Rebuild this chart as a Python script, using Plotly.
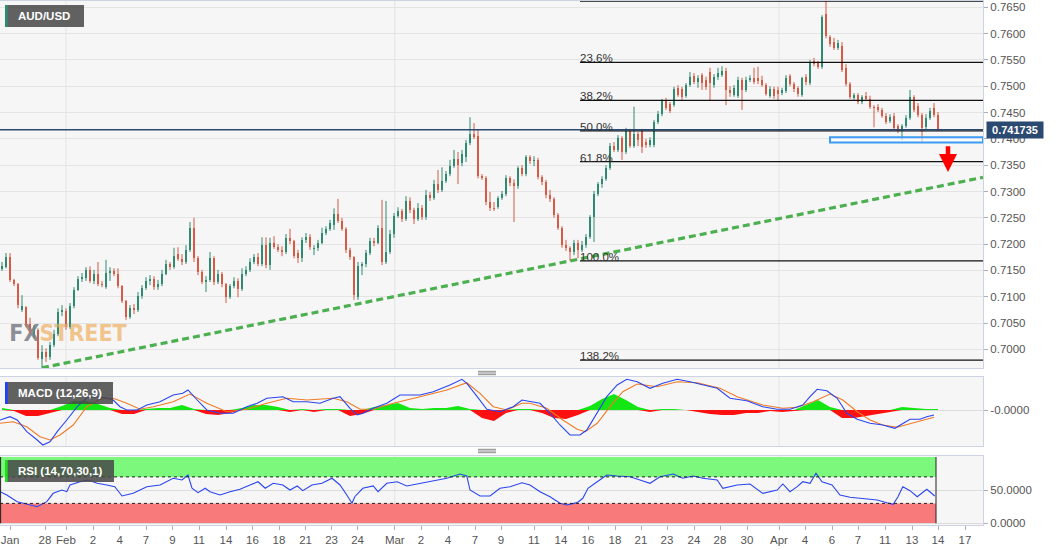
import numpy as np
import plotly.graph_objects as go

# ---------------- DATA ----------------
open_ = [0.7153,0.7156,0.7175,0.7132,0.7124,0.7075,0.7080,0.7048,0.7025,0.7037,
 0.6982,0.6995,0.6985,0.7008,0.7029,0.7071,0.7073,0.7042,0.7082,0.7113,
 0.7134,0.7135,0.7151,0.7130,0.7143,0.7124,0.7118,0.7145,0.7149,0.7143,
 0.7120,0.7092,0.7061,0.7078,0.7075,0.7101,0.7116,0.7130,0.7134,0.7118,
 0.7124,0.7143,0.7162,0.7156,0.7181,0.7172,0.7166,0.7189,0.7231,0.7173,
 0.7147,0.7128,0.7132,0.7173,0.7128,0.7143,0.7124,0.7099,0.7120,0.7130,
 0.7115,0.7143,0.7151,0.7166,0.7175,0.7162,0.7198,0.7160,0.7202,0.7194,
 0.7189,0.7185,0.7212,0.7206,0.7183,0.7173,0.7208,0.7213,0.7191,0.7193,
 0.7202,0.7221,0.7229,0.7236,0.7257,0.7244,0.7229,0.7189,0.7175,0.7099,
 0.7158,0.7162,0.7183,0.7206,0.7202,0.7231,0.7166,0.7185,0.7219,0.7253,
 0.7263,0.7248,0.7282,0.7265,0.7248,0.7269,0.7251,0.7293,0.7287,0.7314,
 0.7303,0.7320,0.7333,0.7348,0.7362,0.7354,0.7365,0.7392,0.7409,0.7405,
 0.7329,0.7325,0.7280,0.7269,0.7270,0.7287,0.7295,0.7325,0.7316,0.7310,
 0.7345,0.7333,0.7365,0.7358,0.7360,0.7327,0.7318,0.7293,0.7286,0.7255,
 0.7231,0.7198,0.7193,0.7185,0.7202,0.7189,0.7198,0.7213,0.7251,0.7295,
 0.7314,0.7323,0.7345,0.7386,0.7379,0.7402,0.7375,0.7415,0.7386,0.7409,
 0.7415,0.7394,0.7388,0.7388,0.7432,0.7447,0.7472,0.7466,0.7464,0.7497,
 0.7495,0.7482,0.7502,0.7519,0.7508,0.7521,0.7512,0.7527,0.7502,0.7518,
 0.7521,0.7529,0.7493,0.7483,0.7482,0.7512,0.7493,0.7512,0.7516,0.7516,
 0.7512,0.7502,0.7482,0.7495,0.7493,0.7487,0.7491,0.7520,0.7504,0.7497,
 0.7483,0.7518,0.7506,0.7548,0.7544,0.7537,0.7637,0.7594,0.7584,0.7573,
 0.7576,0.7535,0.7504,0.7478,0.7483,0.7470,0.7482,0.7476,0.7461,0.7461,
 0.7455,0.7443,0.7434,0.7443,0.7424,0.7415,0.7424,0.7440,0.7480,0.7462,
 0.7445,0.7422,0.7440,0.7459,0.7445]

high_ = [0.7166,0.7183,0.7183,0.7134,0.7126,0.7103,0.7082,0.7060,0.7046,0.7040,
 0.7008,0.7002,0.7014,0.7037,0.7078,0.7084,0.7078,0.7088,0.7118,0.7139,
 0.7145,0.7156,0.7158,0.7151,0.7166,0.7130,0.7170,0.7156,0.7154,0.7154,
 0.7122,0.7094,0.7084,0.7086,0.7109,0.7122,0.7137,0.7141,0.7139,0.7132,
 0.7151,0.7170,0.7166,0.7193,0.7194,0.7181,0.7198,0.7242,0.7250,0.7177,
 0.7151,0.7139,0.7185,0.7177,0.7151,0.7147,0.7126,0.7124,0.7137,0.7135,
 0.7154,0.7158,0.7173,0.7181,0.7183,0.7213,0.7213,0.7212,0.7215,0.7200,
 0.7196,0.7219,0.7229,0.7208,0.7189,0.7213,0.7221,0.7219,0.7198,0.7208,
 0.7231,0.7234,0.7246,0.7268,0.7286,0.7250,0.7232,0.7193,0.7177,0.7166,
 0.7166,0.7189,0.7212,0.7212,0.7236,0.7284,0.7282,0.7227,0.7259,0.7270,
 0.7267,0.7291,0.7289,0.7269,0.7278,0.7274,0.7303,0.7299,0.7322,0.7341,
 0.7346,0.7339,0.7360,0.7379,0.7375,0.7379,0.7398,0.7441,0.7430,0.7417,
 0.7333,0.7329,0.7299,0.7280,0.7291,0.7301,0.7331,0.7329,0.7323,0.7348,
 0.7350,0.7369,0.7369,0.7367,0.7364,0.7331,0.7322,0.7303,0.7289,0.7259,
 0.7234,0.7208,0.7196,0.7208,0.7208,0.7206,0.7219,0.7255,0.7301,0.7318,
 0.7329,0.7350,0.7392,0.7394,0.7407,0.7405,0.7421,0.7419,0.7461,0.7413,
 0.7419,0.7400,0.7403,0.7436,0.7453,0.7476,0.7478,0.7470,0.7499,0.7502,
 0.7499,0.7506,0.7527,0.7525,0.7521,0.7525,0.7518,0.7535,0.7523,0.7535,
 0.7538,0.7535,0.7500,0.7502,0.7518,0.7516,0.7518,0.7521,0.7535,0.7537,
 0.7520,0.7506,0.7500,0.7499,0.7499,0.7497,0.7521,0.7523,0.7508,0.7500,
 0.7518,0.7523,0.7550,0.7554,0.7548,0.7635,0.7662,0.7597,0.7592,0.7588,
 0.7584,0.7542,0.7508,0.7487,0.7487,0.7483,0.7489,0.7482,0.7464,0.7466,
 0.7459,0.7449,0.7447,0.7449,0.7428,0.7428,0.7445,0.7493,0.7483,0.7468,
 0.7449,0.7447,0.7459,0.7468,0.7451]

low_ = [0.7149,0.7154,0.7128,0.7120,0.7078,0.7071,0.7042,0.7029,0.7021,0.6980,
 0.6965,0.6976,0.6980,0.7004,0.7025,0.7063,0.7037,0.7039,0.7078,0.7111,
 0.7128,0.7130,0.7126,0.7124,0.7120,0.7118,0.7115,0.7130,0.7139,0.7116,
 0.7088,0.7056,0.7058,0.7067,0.7071,0.7096,0.7113,0.7122,0.7113,0.7113,
 0.7120,0.7141,0.7151,0.7153,0.7168,0.7160,0.7162,0.7185,0.7166,0.7141,
 0.7124,0.7109,0.7128,0.7122,0.7124,0.7118,0.7088,0.7096,0.7116,0.7099,
 0.7111,0.7139,0.7147,0.7162,0.7158,0.7158,0.7154,0.7151,0.7191,0.7185,
 0.7177,0.7181,0.7200,0.7173,0.7164,0.7166,0.7202,0.7189,0.7179,0.7187,
 0.7200,0.7217,0.7225,0.7227,0.7240,0.7225,0.7183,0.7170,0.7094,0.7094,
 0.7141,0.7156,0.7179,0.7196,0.7200,0.7160,0.7162,0.7181,0.7212,0.7250,
 0.7242,0.7244,0.7259,0.7238,0.7244,0.7246,0.7246,0.7282,0.7284,0.7297,
 0.7299,0.7316,0.7329,0.7345,0.7314,0.7348,0.7356,0.7388,0.7400,0.7325,
 0.7322,0.7274,0.7263,0.7263,0.7267,0.7284,0.7291,0.7310,0.7242,0.7305,
 0.7329,0.7329,0.7352,0.7348,0.7323,0.7312,0.7287,0.7280,0.7250,0.7227,
 0.7193,0.7187,0.7168,0.7179,0.7173,0.7185,0.7193,0.7210,0.7204,0.7291,
 0.7307,0.7320,0.7341,0.7375,0.7375,0.7360,0.7371,0.7383,0.7383,0.7386,
 0.7373,0.7383,0.7384,0.7384,0.7428,0.7443,0.7455,0.7449,0.7461,0.7480,
 0.7474,0.7478,0.7499,0.7504,0.7497,0.7493,0.7493,0.7472,0.7497,0.7512,
 0.7518,0.7464,0.7480,0.7480,0.7478,0.7455,0.7489,0.7508,0.7504,0.7504,
 0.7499,0.7482,0.7478,0.7476,0.7472,0.7483,0.7487,0.7500,0.7489,0.7480,
 0.7480,0.7502,0.7502,0.7538,0.7533,0.7533,0.7591,0.7575,0.7569,0.7569,
 0.7527,0.7500,0.7476,0.7474,0.7466,0.7466,0.7472,0.7457,0.7422,0.7451,
 0.7440,0.7428,0.7430,0.7417,0.7411,0.7398,0.7421,0.7436,0.7451,0.7441,
 0.7392,0.7417,0.7436,0.7441,0.7415]

close_ = [0.7158,0.7175,0.7132,0.7124,0.7084,0.7082,0.7048,0.7037,0.7039,0.6983,
 0.6995,0.6985,0.7008,0.7029,0.7071,0.7075,0.7042,0.7082,0.7113,0.7134,
 0.7137,0.7151,0.7130,0.7143,0.7124,0.7122,0.7145,0.7149,0.7143,0.7120,
 0.7092,0.7061,0.7078,0.7075,0.7101,0.7116,0.7130,0.7134,0.7118,0.7124,
 0.7143,0.7162,0.7156,0.7177,0.7172,0.7166,0.7189,0.7231,0.7173,0.7147,
 0.7128,0.7132,0.7173,0.7128,0.7143,0.7124,0.7099,0.7120,0.7130,0.7115,
 0.7143,0.7151,0.7166,0.7175,0.7162,0.7198,0.7160,0.7202,0.7194,0.7189,
 0.7185,0.7212,0.7206,0.7177,0.7173,0.7208,0.7213,0.7194,0.7193,0.7202,
 0.7221,0.7229,0.7240,0.7257,0.7244,0.7229,0.7189,0.7175,0.7103,0.7158,
 0.7162,0.7183,0.7206,0.7202,0.7231,0.7166,0.7185,0.7219,0.7253,0.7263,
 0.7248,0.7282,0.7265,0.7248,0.7269,0.7251,0.7293,0.7287,0.7314,0.7303,
 0.7320,0.7333,0.7348,0.7362,0.7350,0.7371,0.7392,0.7409,0.7403,0.7329,
 0.7325,0.7280,0.7269,0.7267,0.7287,0.7295,0.7325,0.7316,0.7310,0.7345,
 0.7333,0.7365,0.7358,0.7360,0.7327,0.7318,0.7293,0.7286,0.7255,0.7231,
 0.7198,0.7193,0.7185,0.7202,0.7189,0.7198,0.7213,0.7251,0.7295,0.7314,
 0.7323,0.7345,0.7386,0.7379,0.7402,0.7375,0.7415,0.7386,0.7409,0.7398,
 0.7384,0.7388,0.7398,0.7432,0.7447,0.7472,0.7459,0.7453,0.7495,0.7483,
 0.7480,0.7502,0.7518,0.7508,0.7515,0.7506,0.7499,0.7506,0.7518,0.7525,
 0.7529,0.7493,0.7487,0.7497,0.7512,0.7493,0.7512,0.7516,0.7508,0.7510,
 0.7502,0.7485,0.7495,0.7482,0.7485,0.7493,0.7516,0.7504,0.7495,0.7485,
 0.7515,0.7508,0.7544,0.7542,0.7537,0.7632,0.7595,0.7580,0.7573,0.7582,
 0.7531,0.7504,0.7480,0.7483,0.7470,0.7480,0.7476,0.7461,0.7459,0.7455,
 0.7443,0.7432,0.7441,0.7421,0.7415,0.7424,0.7440,0.7480,0.7455,0.7445,
 0.7421,0.7440,0.7453,0.7445,0.741735]

x_tick_labels = ["Jan","28","Feb","2","4","7","9","11","14","16","18","21","23","24",
                 "Mar","2","4","7","9","11","14","16","18","21","23","24","28","30",
                 "Apr","4","6","7","11","13","14","17"]
x_tick_pos = [2.0,10.75,16,22.75,29.4,36,42.6,49.25,56,62.6,69.25,75.9,82.4,88.9,
              98.2,104.75,111.5,118.25,124.75,133,139.75,146.5,153.25,159.75,166.25,173,179.5,186.25,
              194.25,200.75,207.5,214,220.75,227.5,234,240.75]

macd_x = [-0.5,2,3.8,6.2,8.8,10.2,12,13.8,16.2,18.8,21.2,23.8,26.2,27.8,29.5,31.2,33.8,36.2,39.5,42.8,
          45.2,46.5,48.8,51.2,54.5,57.8,61.2,63.8,66.2,70.2,72.8,76.2,79.5,82.8,84.5,87,88.8,90.2,92.8,96.2,
          99.5,104.5,107.8,112,115,116.2,118.8,121.2,124.5,127.8,130,132,134.5,137,139.5,142,144.5,146.2,148.8,151.2,
          153.8,156.2,158.8,162,165.2,168.8,172,175.2,178.8,182,186.2,190.2,193.8,197,200.2,202,203.8,206.2,208.8,211.2,
          213.8,217,220.2,223.2,225.2,227,229.5,231.2,233]
macd_vals = [-0.0010,-0.00067,-0.0010,-0.00217,-0.0030,-0.0035,-0.00317,-0.00217,-0.0010,0.00033,
             0.0012,0.00133,0.0012,0.0010,0.00033,0.0,0.0,0.0005,0.00083,0.0015,
             0.00167,0.0020,0.0010,0.0,-0.00033,-0.00033,0.00033,0.00067,0.00117,0.00133,
             0.00083,0.00083,0.00067,0.00117,0.00133,0.00017,-0.0005,-0.00033,0.00017,0.00067,
             0.0015,0.0015,0.00183,0.0025,0.00307,0.00267,0.00133,0.00007,-0.00017,0.00033,
             0.0010,0.00083,0.00067,-0.00033,-0.0015,-0.0025,-0.0025,-0.0020,-0.00033,0.00133,
             0.0025,0.00307,0.00283,0.00217,0.00267,0.00307,0.00283,0.0025,0.00217,0.00117,
             0.00093,0.00033,0.00007,0.00007,0.0005,0.00133,0.00207,0.00193,0.00117,-0.00033,
             -0.00093,-0.00133,-0.0015,-0.00183,-0.00133,-0.00093,-0.00093,-0.00067,-0.0005]

signal_x = [-0.5,2.8,6.2,9.5,12,14.5,17.8,21.2,24.5,27.8,31.2,34.5,37.8,42.8,47,51.2,56.2,61.2,66.2,71.2,
            76.2,82.8,86.2,89.5,92.8,97.8,104.5,111.2,116.2,119.5,122.8,126.2,130,132,136.2,140.2,143.8,145.8,148.8,152,
            155.2,158.8,163.8,168.8,173.8,179.5,183.8,190.2,195.2,198.8,202.8,207,210.2,213.8,217,220.2,223.8,227,230.2,233]
signal_vals = [-0.00133,-0.00117,-0.00167,-0.00267,-0.0030,-0.0025,-0.0015,0.00033,0.00107,0.00117,
               0.00067,0.00007,0.00033,0.00083,0.0016,0.00067,-0.00017,0.00007,0.00067,0.00117,
               0.0010,0.00117,0.00083,0.00007,0.00007,0.00067,0.00133,0.0020,0.00273,0.00167,
               0.00033,0.0,0.00067,0.00067,0.00017,-0.0010,-0.00193,-0.00217,-0.00133,0.00033,
               0.00183,0.0026,0.00233,0.00283,0.00273,0.00217,0.00133,0.0005,0.00017,0.00027,
               0.00083,0.0016,0.0010,-0.00017,-0.0010,-0.0015,-0.00173,-0.0014,-0.00107,-0.00073]

hist_x = list(range(0, 235, 3))
hist_vals = [0.0002,-0.0001,-0.0006,-0.0006,-0.0003,0.0004,0.0009,0.0009,0.0006,0.0002,
             -0.0004,-0.0004,0.0001,0.0002,0.0002,0.0005,0.0001,-0.0004,-0.0005,-0.0003,
             0.0002,0.0005,0.0005,0.0003,-0.0002,0.0001,-0.0002,0.0001,0.0001,-0.0006,
             -0.0004,0.0003,0.0005,0.0007,0.0002,0.0001,0.0002,0.0002,0.0004,0.0001,
             -0.0008,-0.0011,-0.0003,0.0001,0.0001,-0.0003,-0.0008,-0.0009,-0.0005,0.0004,
             0.0011,0.0016,0.0010,0.0003,-0.0002,0.0001,0.0001,0.0,-0.0002,-0.0004,
             -0.0005,-0.0005,-0.0003,-0.0003,-0.0001,-0.0002,-0.0001,0.0005,0.0010,0.0003,
             -0.0008,-0.0008,-0.0006,-0.0004,-0.0002,0.0003,0.0002,0.0001,0.0001]

rsi_x = [-0.5,1.2,3.8,5.2,7,8.8,11.2,12.8,15,16.2,
         17,19.5,21.5,23.8,26.2,28.2,30,32.8,36.2,39.5,
         42.8,45,46.5,47.5,49,50.8,52,54.5,57,59.5,
         62,64,65.8,67.8,70.2,72,73.8,75.2,77.5,80,
         82.5,84.5,86.2,87.5,88.2,90.2,92.8,94,96.2,98.8,
         101.2,104.5,107.8,111.2,114.5,116.2,117,119.5,122,124.5,
         127,130,132,134.5,137,139.5,141.2,143.8,145.2,146.5,
         148.8,151.2,153.8,157,159.5,162,164.5,167.8,170.2,172.8,
         175.2,178.8,180.2,183.8,187,190.2,193.8,195.2,197,198.8,
         200.2,202,203.5,205,207.5,209.5,212,215.2,218.8,221.2,
         222.8,224,225.2,227,228.8,231.2,233.2]
rsi_vals = [47.7,42.7,32.6,30.2,27.6,25,32.6,45.2,50.2,47.7,
            57.8,62.7,65.3,60.3,57.8,55.2,41.2,45.2,55.2,57.8,
            67.9,65.3,72.8,52.8,46.2,52.8,47.7,42.7,47.7,51.3,
            57.8,62.7,52.8,60.3,57.8,50.2,56.3,49.2,57.8,60.3,
            67.9,57.8,42.7,30.2,40.1,52.8,56.3,47.7,60.3,62.7,
            56.3,60.3,64.3,67.9,74.4,71.3,50.2,41.2,41.2,52.8,
            55.2,61.2,57.8,47.7,40.1,30.2,27.6,31.1,37.7,52.8,
            62.7,72.8,71.3,70.3,65.3,60.3,70.3,74.4,67.9,71.3,
            67.9,65.3,52.8,57.8,59.3,45.2,50.2,59.3,47.7,55.2,
            62.7,60.3,75.4,62.7,57.8,42.7,39.2,37.7,35.1,31.1,
            28.7,40.1,55.2,49.2,40.1,51.3,41.2]

fib_ratios = [0.0, 0.236, 0.382, 0.5, 0.618, 1.0, 1.382]
fib_text = ["", "23.6%", "38.2%", "50.0%", "61.8%", "100.0%", "138.2%"]

# ---------------- GEOMETRY / STYLE ----------------
W, H = 1060, 550
ML, MR, MT, MB = 0, 77, 1, 25
PW, PH = W - ML - MR, H - MT - MB
FONT = "Liberation Sans, Arial, sans-serif"
UP, DOWN = "#2f8a70", "#d65a44"
BORDER = "#cdd3e1"
GRID = "#e4e4e4"
TXT = "#555555"

def ydom(top_px, bot_px):
    return [(H - MB - bot_px) / PH, (H - MB - top_px) / PH]

def pxx(px):
    return px / PW

def pxy(py):
    return (H - MB - py) / PH

X_RANGE = [-0.5, 245.25]
P_RANGE = [0.69645, 0.76620]
M_RANGE = [-0.0036, 0.0033]
R_RANGE = [-2.6, 101.5]

o = np.array(open_); h = np.array(high_); l = np.array(low_); c = np.array(close_)
idx = np.arange(len(c))
up = c >= o

fig = go.Figure()

# watermark (below candles)
fig.add_trace(go.Scatter(
    x=[16.5], y=[0.7027], mode="text",
    text=["<b><span style='color:#8e8e98'>FX</span><span style='color:#f1c48e'>STREET</span></b>"],
    textfont=dict(family="Liberation Sans Narrow, DejaVu Sans Condensed, Arial Narrow, sans-serif", size=23),
    xaxis="x", yaxis="y", hoverinfo="skip"))

# trend line through the two swing lows
a_i, b_i = 10, 142
slope = (l[b_i] - l[a_i]) / (b_i - a_i)
tx = np.array([a_i, X_RANGE[1]])
fig.add_trace(go.Scatter(x=tx, y=l[a_i] + slope * (tx - a_i), mode="lines",
                         line=dict(color="#4caf50", width=3.2, dash="7px,4px"),
                         xaxis="x", yaxis="y", hoverinfo="skip"))

# candles: wicks + bodies
for mask, col in ((up, UP), (~up, DOWN)):
    wx, wy = [], []
    for i in idx[mask]:
        wx += [i, i, None]
        wy += [l[i], h[i], None]
    fig.add_trace(go.Scatter(x=wx, y=wy, mode="lines", line=dict(color=col, width=1),
                             xaxis="x", yaxis="y", hoverinfo="skip"))
    base = np.minimum(o, c)[mask]
    height = np.maximum(np.abs(c - o), 0.0001)[mask]
    fig.add_trace(go.Bar(x=idx[mask], y=height, base=base, width=0.72,
                         marker=dict(color=col, line=dict(width=0)),
                         xaxis="x", yaxis="y", hoverinfo="skip"))

# MACD histogram
hv = np.array(hist_vals)
fig.add_trace(go.Scatter(x=hist_x, y=np.maximum(hv, 0), mode="lines", fill="tozeroy",
                         fillcolor="#14e614", line=dict(width=0), xaxis="x2", yaxis="y2", hoverinfo="skip"))
fig.add_trace(go.Scatter(x=hist_x, y=np.minimum(hv, 0), mode="lines", fill="tozeroy",
                         fillcolor="#ff1010", line=dict(width=0), xaxis="x2", yaxis="y2", hoverinfo="skip"))
fig.add_trace(go.Scatter(x=signal_x, y=signal_vals, mode="lines", line=dict(color="#f07a25", width=1.1),
                         xaxis="x2", yaxis="y2", hoverinfo="skip"))
fig.add_trace(go.Scatter(x=macd_x, y=macd_vals, mode="lines", line=dict(color="#2a45f0", width=1.1),
                         xaxis="x2", yaxis="y2", hoverinfo="skip"))

# RSI
fig.add_trace(go.Scatter(x=rsi_x, y=rsi_vals, mode="lines", line=dict(color="#2a45f0", width=1.1),
                         xaxis="x3", yaxis="y3", hoverinfo="skip"))

shapes = []
annotations = []

# month gridlines
months = [p for p, t in zip(x_tick_pos, x_tick_labels) if t in ("Feb", "Mar", "Apr")]
for xr, yr in (("x", "y domain"), ("x2", "y2 domain"), ("x3", "y3 domain")):
    for m in months:
        shapes.append(dict(type="line", xref=xr, yref=yr, x0=m, x1=m, y0=0, y1=1,
                           line=dict(color=GRID, width=1), layer="below"))

# RSI zones
last_x = idx[-1] - 0.5
shapes.append(dict(type="rect", xref="x3", yref="y3", x0=X_RANGE[0], x1=last_x, y0=70, y1=100,
                   fillcolor="#7cf87c", line=dict(width=0), layer="below"))
shapes.append(dict(type="rect", xref="x3", yref="y3", x0=X_RANGE[0], x1=last_x, y0=0, y1=30,
                   fillcolor="#f87a7a", line=dict(width=0), layer="below"))
for lv in (70, 30):
    shapes.append(dict(type="line", xref="x3", yref="y3", x0=X_RANGE[0], x1=last_x, y0=lv, y1=lv,
                       line=dict(color="#222", width=1, dash="dot")))
for xv in (X_RANGE[0] + 0.15, last_x):
    shapes.append(dict(type="line", xref="x3", yref="y3", x0=xv, x1=xv, y0=0, y1=100,
                       line=dict(color="#222", width=1)))

# Fibonacci retracement
fib_hi = h.max()
fib_lo = l[120:].min()
fib_x0 = 144.5
for r, t in zip(fib_ratios, fib_text):
    lvl = fib_hi - r * (fib_hi - fib_lo)
    shapes.append(dict(type="line", xref="x", yref="y", x0=fib_x0, x1=X_RANGE[1], y0=lvl, y1=lvl,
                       line=dict(color="#111", width=1.3)))
    if t:
        annotations.append(dict(x=fib_x0, y=lvl, xref="x", yref="y", text=t, showarrow=False,
                                xanchor="left", yanchor="bottom", yshift=-4, xshift=-2,
                                font=dict(family=FONT, size=11.5, color="#333")))

# current price line
last = c[-1]
shapes.append(dict(type="line", xref="x domain", yref="y", x0=0, x1=1, y0=last, y1=last,
                   line=dict(color="#2b4a72", width=1.3)))

# support zone
shapes.append(dict(type="rect", xref="x", yref="y", x0=207, x1=X_RANGE[1], y0=0.7393, y1=0.7403,
                   fillcolor="rgba(255,255,255,0.55)", line=dict(color="#3a9cf2", width=2)))

# down arrow
annotations.append(dict(x=236.5, y=0.7337, ax=236.5, ay=0.7389, xref="x", yref="y", axref="x", ayref="y",
                        text="", showarrow=True, arrowhead=2, arrowsize=0.8, arrowwidth=4.5,
                        arrowcolor="#ff0000"))

# price label
annotations.append(dict(x=1, xref="paper", y=last, yref="y", xanchor="left", yanchor="middle",
                        xshift=3, text=f"<b>{last:.6f}</b>", showarrow=False,
                        bgcolor="#2b4a72", borderpad=2, width=52,
                        font=dict(family=FONT, size=11, color="white")))

# panel title boxes
boxes = [("AUD/USD", 5, 84, 5, 27, "#2e8b72"),
         ("MACD (12,26,9)", 5, 113, 382, 404, "#2040ff"),
         ("RSI (14,70,30,1)", 5, 114, 460, 482, "#1ee01e")]
for text, x0, x1, y0, y1, acc in boxes:
    shapes.append(dict(type="rect", xref="paper", yref="paper", x0=pxx(x0), x1=pxx(x1),
                       y0=pxy(y1), y1=pxy(y0), fillcolor="rgba(72,72,72,0.86)", line=dict(width=0),
                       layer="above"))
    shapes.append(dict(type="rect", xref="paper", yref="paper", x0=pxx(x0), x1=pxx(x0 + 2.7),
                       y0=pxy(y1), y1=pxy(y0), fillcolor=acc, line=dict(width=0), layer="above"))
    annotations.append(dict(x=pxx(16), y=pxy((y0 + y1) / 2), xref="paper", yref="paper",
                            xanchor="left", yanchor="middle", text=f"<b>{text}</b>", showarrow=False,
                            font=dict(family=FONT, size=11.5, color="white")))

# panel resize handles
for cy in (373, 451):
    for dy in (-1.7, 0, 1.7):
        shapes.append(dict(type="line", xref="paper", yref="paper", x0=pxx(478), x1=pxx(496),
                           y0=pxy(cy + dy), y1=pxy(cy + dy), line=dict(color="#8a8a8a", width=1)))

axis_common = dict(showline=True, mirror=True, linecolor=BORDER, linewidth=1, zeroline=False)
xcommon = dict(axis_common, range=X_RANGE, showgrid=False, showticklabels=False, ticks="")
ytick = dict(ticks="outside", ticklen=4, tickcolor="#a8afc0",
             tickfont=dict(family=FONT, size=11.5, color=TXT))

fig.update_layout(
    width=W, height=H, margin=dict(l=ML, r=MR, t=MT, b=MB, autoexpand=False),
    paper_bgcolor="white", plot_bgcolor="#f6f6f6",
    showlegend=False, hovermode=False, barmode="overlay", bargap=0,
    font=dict(family=FONT, color=TXT),
    xaxis=dict(xcommon, domain=[0, 1], anchor="y"),
    xaxis2=dict(xcommon, domain=[0, 1], anchor="y2", matches="x"),
    xaxis3=dict(axis_common, domain=[0, 1], anchor="y3", matches="x", range=X_RANGE, showgrid=False,
                tickmode="array", tickvals=x_tick_pos, ticktext=x_tick_labels,
                ticks="outside", ticklen=4, tickcolor="#a8afc0", ticklabeloverflow="allow",
                tickfont=dict(family=FONT, size=11.5, color=TXT)),
    yaxis=dict(axis_common, **ytick, domain=ydom(1, 368), anchor="x", side="right", range=P_RANGE,
               tick0=0.7, dtick=0.005, tickformat=".4f", showgrid=True, gridcolor=GRID),
    yaxis2=dict(axis_common, **ytick, domain=ydom(377, 446), anchor="x2", side="right", range=M_RANGE,
                tickmode="array", tickvals=[0], ticktext=["-0.0000"], showgrid=True, gridcolor="#dcdcdc"),
    yaxis3=dict(axis_common, **ytick, domain=ydom(456, 525), anchor="x3", side="right", range=R_RANGE,
                tickmode="array", tickvals=[0, 50], ticktext=["0.0000", "50.0000"],
                showgrid=True, gridcolor="#dcdcdc"),
    shapes=shapes, annotations=annotations,
)

fig.write_html("out.html", config={"displayModeBar": False, "staticPlot": True},
               post_script="document.body.style.margin='0';document.body.style.padding='0';")
